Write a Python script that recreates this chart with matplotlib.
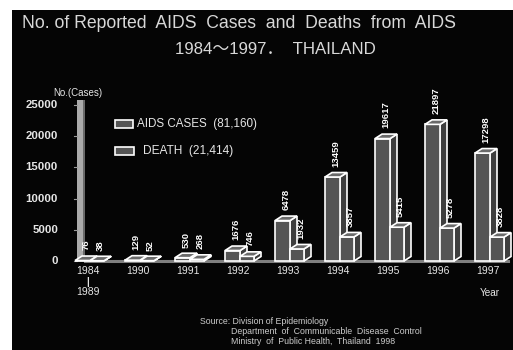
import matplotlib
matplotlib.use("Agg")
import matplotlib.pyplot as plt
from matplotlib.patches import Rectangle, Polygon

# data
years = ["1984", "1990", "1991", "1992", "1993", "1994", "1995", "1996", "1997"]
cases = [76, 129, 530, 1676, 6478, 13459, 19617, 21897, 17298]
deaths = [38, 52, 268, 746, 1932, 3857, 5415, 5278, 3828]
yticks = [0, 5000, 10000, 15000, 20000, 25000]

W, H = 513, 350
FONT = "Liberation Sans"
FG = "#e6e6e6"


def fx(px):
    return px / W


def fy(py):
    return 1 - py / H


def bar3d(ax, x0, w, h, dx, dy, z):
    front = "#555555"
    side = "#3e3e3e"
    top = "#6a6a6a"
    kw = dict(edgecolor="white", linewidth=1.2, closed=True, clip_on=False, zorder=z)
    ax.add_patch(Polygon([(x0 + w, 0), (x0 + w + dx, dy), (x0 + w + dx, h + dy), (x0 + w, h)],
                         facecolor=side, **kw))
    ax.add_patch(Polygon([(x0, 0), (x0 + w, 0), (x0 + w, h), (x0, h)],
                         facecolor=front, **kw))
    ax.add_patch(Polygon([(x0, h), (x0 + w, h), (x0 + w + dx, h + dy), (x0 + dx, h + dy)],
                         facecolor=top, **kw))


fig = plt.figure(figsize=(W / 100, H / 100), dpi=100)
fig.patch.set_facecolor("white")
fig.patches.append(Rectangle((fx(12), 0), 1, fy(10), transform=fig.transFigure,
                             facecolor="#050505", edgecolor="none", zorder=-10))

ax = fig.add_axes([fx(38), fy(261), 475 / W, 156 / H])
ax.set_xlim(-1, 8.5)
ax.set_ylim(0, 25000)
ax.axis("off")

# pixel -> data conversions
xu = 1 / 50.0
yu = 25000 / 156.0
dx, dy = 7 * xu, 4.5 * yu

# back wall
ax.add_patch(Rectangle((-11 * xu, 0), 6 * xu, 25800, facecolor="#ababab",
                       edgecolor="none", clip_on=False, zorder=2))
ax.add_patch(Rectangle((-5 * xu, 0), 2 * xu, 25800, facecolor="#6a6a6a",
                       edgecolor="none", clip_on=False, zorder=2))
for t in yticks:
    ax.plot([-14 * xu, -11 * xu], [t, t], color="#999999", lw=0.8, clip_on=False, zorder=2)
    ax.text(-30 * xu, t, str(t), ha="right", va="center", color=FG,
            fontsize=8.2, fontweight="bold", family=FONT)

# floor
ax.plot([-3 * xu, 8.4], [0, 0], color="#808080", lw=2.2, clip_on=False, zorder=1)

for i, (c, d) in enumerate(zip(cases, deaths)):
    xc, wc = i - 13 * xu, 15 * xu
    xd, wd = i + 2 * xu, 14 * xu
    bar3d(ax, xc, wc, c, dx, dy, 3)
    bar3d(ax, xd, wd, d, dx, dy, 4)
    ax.text(xc + wc / 2 + dx / 2, c + dy + 900, str(c), rotation=90, ha="center",
            va="bottom", color="white", fontsize=6.8, fontweight="bold", family=FONT)
    ax.text(xd + wd / 2 + dx / 2, d + dy + 900, str(d), rotation=90, ha="center",
            va="bottom", color="white", fontsize=6.8, fontweight="bold", family=FONT)
    ax.text(i, -1600, years[i], ha="center", va="center", color=FG,
            fontsize=7.5, family=FONT)

ax.text(0, -3300, "|", ha="center", va="center", color=FG, fontsize=7, fontweight="bold",
        family=FONT)
ax.text(0, -4900, "1989", ha="center", va="center", color=FG, fontsize=7.5, family=FONT)

# titles and notes
fig.text(fx(22), fy(24), "No. of Reported  AIDS  Cases  and  Deaths  from  AIDS",
         ha="left", va="center", color="#d8d8d8", fontsize=12.7, family=FONT)
fig.text(fx(175), fy(49), "1984～1997．  THAILAND", ha="left", va="center",
         color="#d8d8d8", fontsize=12.2, family=[FONT, "Noto Sans CJK JP"])
fig.text(fx(53), fy(93), "No.(Cases)", ha="left", va="center", color=FG,
         fontsize=7.0, family=FONT)
fig.text(fx(480), fy(293), "Year", ha="left", va="center", color=FG,
         fontsize=7.2, family=FONT)

# legend
fig.patches.append(Rectangle((fx(115), fy(128)), 18 / W, 8 / H, transform=fig.transFigure,
                             facecolor="#555555", edgecolor="white", lw=1.2))
fig.patches.append(Rectangle((fx(115), fy(155)), 19 / W, 8 / H, transform=fig.transFigure,
                             facecolor="#555555", edgecolor="white", lw=1.2))
fig.text(fx(137), fy(124), "AIDS CASES  (81,160)", ha="left", va="center", color=FG,
         fontsize=8.4, family=FONT)
fig.text(fx(143), fy(151), "DEATH  (21,414)", ha="left", va="center", color=FG,
         fontsize=8.6, family=FONT)

fig.text(fx(200), fy(321), "Source: Division of Epidemiology", ha="left", va="center",
         color="#cccccc", fontsize=6.3, family=FONT)
fig.text(fx(231), fy(332), "Department  of  Communicable  Disease  Control", ha="left",
         va="center", color="#cccccc", fontsize=6.3, family=FONT)
fig.text(fx(231), fy(341), "Ministry  of  Public Health,  Thailand  1998", ha="left",
         va="center", color="#cccccc", fontsize=6.3, family=FONT)

fig.savefig("out.png", dpi=100, facecolor=fig.get_facecolor())
